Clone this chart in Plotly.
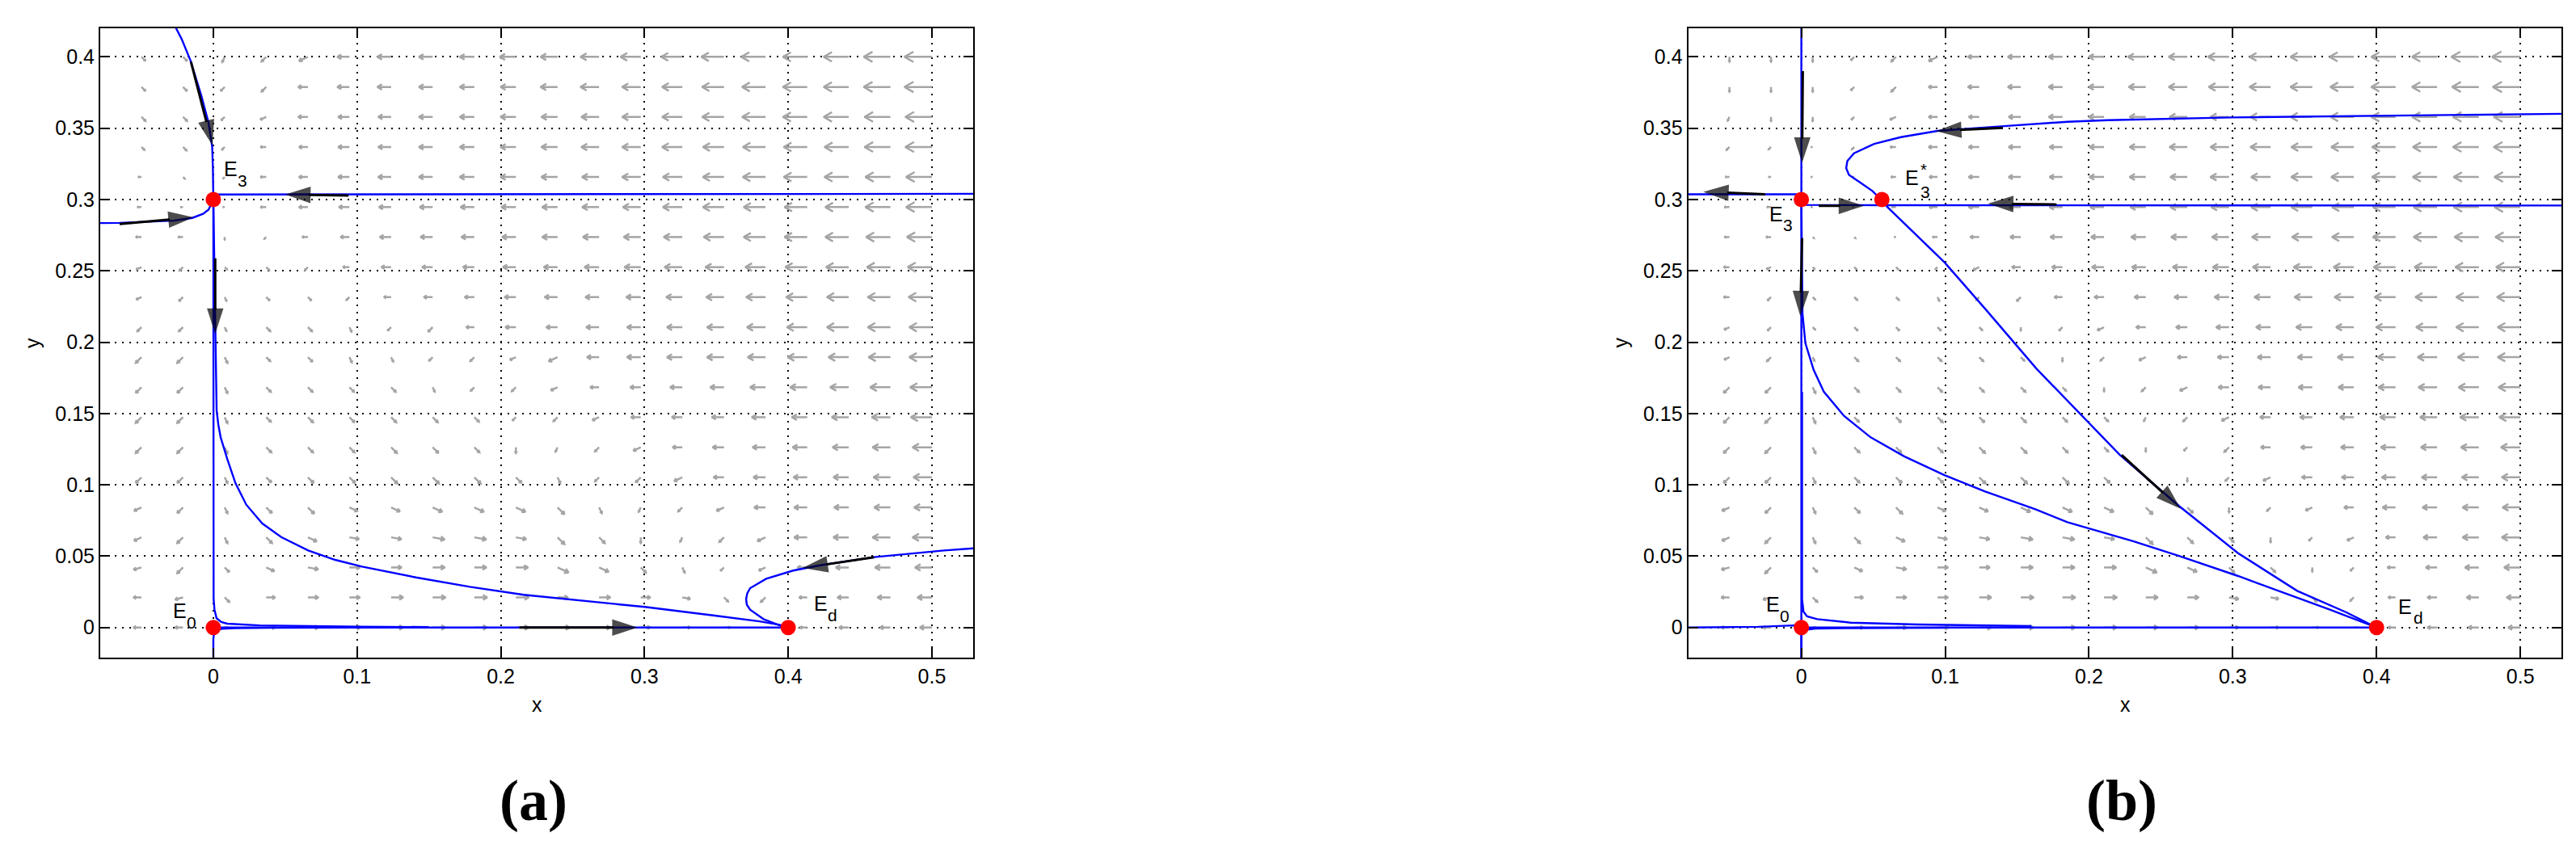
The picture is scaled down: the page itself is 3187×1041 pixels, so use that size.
import math
import plotly.graph_objects as go
import plotly.figure_factory as ff

# ---------------- axes ----------------
X_RANGE = [-0.0787, 0.5288]
Y_RANGE = [-0.0211, 0.4202]
X_TICKS = [0, 0.1, 0.2, 0.3, 0.4, 0.5]
X_TICKTEXT = ["0", "0.1", "0.2", "0.3", "0.4", "0.5"]
Y_TICKS = [0, 0.05, 0.1, 0.15, 0.2, 0.25, 0.3, 0.35, 0.4]
Y_TICKTEXT = ["0", "0.05", "0.1", "0.15", "0.2", "0.25", "0.3", "0.35", "0.4"]

# ---------------- direction field ----------------
field_x = [-0.05, -0.0211, 0.0079, 0.0368, 0.0658, 0.0947, 0.1237, 0.1526, 0.1816, 0.2105,
           0.2395, 0.2684, 0.2974, 0.3263, 0.3553, 0.3842, 0.4132, 0.4421, 0.4711, 0.5]
field_y = [0.4, 0.3789, 0.3579, 0.3368, 0.3158, 0.2947, 0.2737, 0.2526, 0.2316, 0.2105,
           0.1895, 0.1684, 0.1474, 0.1263, 0.1053, 0.0842, 0.0632, 0.0421, 0.0211, 0.0]
# direction codes -> angle in degrees
DIR_ANGLE = {'W': 180, 'v': 195, 'w': 205, 'Z': 225, 'z': 245, 'S': 270,
             's': 295, 'Q': 315, 'q': 335, 'e': 350, 'E': 0}
# arrow length read in screen pixels (base-36 digit) ; pixels per data unit
FIELD_PX_PER_UNIT = 1778.0

dirs_a = [
    "QQzZwWWWWWWWWWWWWWWW",
    "QQZZWWWWWWWWWWWWWWWW",
    "QQZwWWWWWWWWWWWWWWWW",
    "QQZWWWWWWWWWWWWWWWWW",
    "WQZWWWWWWWWWWWWWWWWW",
    "WWWWWWWWWWWWWWWWWWWW",
    "WWSZWWWWWWWWWWWWWWWW",
    "wZQQZWWWWWWWWWWWWWWW",
    "wZsQQZWWWWWWWWWWWWWW",
    "ZZsQQsZZWWWWWWWWWWWW",
    "ZZsQQssZZwwWWWWWWWWW",
    "ZZsQQQQsZZwWWWWWWWWW",
    "ZZsQQQQQQZZwWWWWWWWW",
    "ZZsQQQQQQSzZwWWWWWWW",
    "ZZsQQQQQQQsZZwWWWWWW",
    "wZsQQqqqqqQszZwWWWWW",
    "wZsQqeeeeeQQSzZwWWWW",
    "vZQqeEEEEEqqQsZwWWWW",
    "WvQEEEEEEEEEEeQZWWWW",
    "WWEEEEEEEEEEEEEEWWWW",
]
lens_a = [
    "7778cfhhiklnpqsuuvxy",
    "7778cfhhijlnnprtuvxy",
    "7768ceghijkmnprtuvwx",
    "5657beghijkmnpqstuwx",
    "4337beghijklnoqstuvw",
    "5327bdfghijlmoqrstvw",
    "76337befghjklnprstuv",
    "764558cdeghikmnprstu",
    "7756659bceghikmoqrst",
    "77577668adeghjlnprss",
    "aa87876678cfhjlmoprs",
    "aa888886679bdfhjlnpr",
    "aa8899998679cdfhjlnq",
    "aa8999aa9767acegikmo",
    "aa89aabbba879bdfhjln",
    "aa8abbcdddc867aegikm",
    "aa8accdffdca768bgjmo",
    "aa8bdddffffd9769cgjl",
    "aa8bddfgggdeca78aegi",
    "aa4bdefgggfeca849cdf",
]
dirs_b = [
    "SSSZZwWWWWWWWWWWWWWW",
    "SSSZZWWWWWWWWWWWWWWW",
    "zSSZwWWWWWWWWWWWWWWW",
    "ZZWZWWWWWWWWWWWWWWWW",
    "WWWWWWWWWWWWWWWWWWWW",
    "WWWWWWWWWWWWWWWWWWWW",
    "WWQQWWWWWWWWWWWWWWWW",
    "WwQQQZwWWWWWWWWWWWWW",
    "WZQQQsZZWWWWWWWWWWWW",
    "wZQQQQQSZwWWWWWWWWWW",
    "wZsQQQQQSZwWWWWWWWWW",
    "ZZsQQQQQQSZwWWWWWWWW",
    "ZZsQQQQQQQzZwWWWWWWW",
    "ZZsQQQQQQQSZZWWWWWWW",
    "ZZsQQQQQQQQSZwWWWWWW",
    "wZsQQqqqqqQQSZwWWWWW",
    "wZsQqeeeeeQQQSZwWWWW",
    "vZQqeEEEEEqqQQSZWWWW",
    "WvQEEEEEEEEEeeQZWWWW",
    "WWEEEEEEEEEEEEEEWWWW",
]
lens_b = [
    "66668ceghjmnqqruuvyz",
    "66668beghjlnpqrtuvxy",
    "55558bdfhjkmnprtuvwx",
    "54247bdfgikmnpqstuwx",
    "53226adfgiklnoqstuvw",
    "65225adeghjlmoqrstvw",
    "662226bdfgiklnprstuv",
    "7634448bdfhikmnprstu",
    "76455557acegikmoqrst",
    "7646665469cegikmoqss",
    "77577776569cegikmoqs",
    "aa888888657adfhjlnpr",
    "aa8899998757adfhjlnq",
    "aa8999aa97568cegikmo",
    "aa89aabbba656adfhjln",
    "aa8abbcdddca669cgikm",
    "aa8accdffdca8669chkn",
    "aa8bdddffffd9856aehk",
    "aa8bddfgggfeca769cfh",
    "aa4bdefgggfeca849cdf",
]

# ---------------- trajectories ----------------
traj_a = [
    ([-0.026, -0.0221, -0.0159, -0.0084, -0.0034, -0.0008, -0.0003, 0.0],
     [0.4202, 0.4126, 0.3975, 0.373, 0.3541, 0.3371, 0.322, 0.3]),
    ([0.0, 0.0004, 0.0008, 0.0013, 0.0018, 0.0023, 0.0035, 0.0051, 0.0097, 0.0154, 0.0229,
      0.0341, 0.0472, 0.066, 0.0848, 0.1035, 0.141, 0.1785, 0.216, 0.26, 0.3003, 0.35,
      0.38, 0.394, 0.4],
     [0.3, 0.27, 0.24, 0.209, 0.18, 0.152, 0.142, 0.1333, 0.1182, 0.1012, 0.0861,
      0.0729, 0.0634, 0.054, 0.0474, 0.0427, 0.0351, 0.0285, 0.0229, 0.0185, 0.0144, 0.0082,
      0.0043, 0.0019, 0.0]),
    ([0.0, 0.0, 0.0002, 0.0008, 0.00225, 0.0055, 0.0097, 0.0322, 0.06, 0.1, 0.15],
     [0.3, 0.05, 0.02, 0.0125, 0.0065, 0.0038, 0.0027, 0.0015, 0.001, 0.0006, 0.0003]),
    ([0.0, 0.0, 0.0005, 0.002, 0.006, 0.015, 0.04, 0.1],
     [-0.0211, -0.008, -0.004, -0.0018, -0.0009, -0.0005, -0.0002, -0.0001]),
    ([0.0, 0.4], [0.0, 0.0]),
    ([0.5288, 0.01, 0.003, 0.0005, 0.0], [0.304, 0.3037, 0.3035, 0.302, 0.3]),
    ([-0.0787, -0.0652, -0.0277, -0.0146, -0.0071, -0.0034, -0.0015, 0.0],
     [0.2835, 0.2836, 0.2852, 0.2871, 0.29, 0.2928, 0.2966, 0.3]),
    ([0.5288, 0.5084, 0.4597, 0.4222, 0.4034, 0.3847, 0.3735, 0.3715, 0.3707, 0.3712,
      0.3735, 0.3828, 0.394, 0.4],
     [0.0555, 0.054, 0.0493, 0.0436, 0.0399, 0.0342, 0.0276, 0.024, 0.02, 0.016,
      0.0125, 0.0059, 0.0015, 0.0]),
]
traj_b = [
    ([0.0, 0.0], [0.4202, -0.0211]),
    ([-0.0787, -0.01, 0.0, 0.0], [0.3037, 0.3037, 0.3037, 0.3]),
    ([0.0, 0.002, 0.056, 0.2, 0.5288], [0.3, 0.2962, 0.296, 0.2959, 0.2958]),
    ([0.5285, 0.4133, 0.2991, 0.2131, 0.185, 0.139, 0.0948, 0.0692, 0.0506, 0.0366,
      0.032, 0.0312, 0.0331, 0.0412, 0.0494, 0.0559],
     [0.3601, 0.3588, 0.3575, 0.3556, 0.3545, 0.3513, 0.3481, 0.3437, 0.339, 0.3324,
      0.327, 0.322, 0.3173, 0.3117, 0.306, 0.2994]),
    ([0.0559, 0.0599, 0.0995, 0.1274, 0.1635, 0.185, 0.2215, 0.2626, 0.3037, 0.3448,
      0.379, 0.4],
     [0.2994, 0.2947, 0.256, 0.2239, 0.1814, 0.1588, 0.121, 0.0852, 0.0521, 0.0257,
      0.0106, 0.0]),
    ([0.0, 0.0003, 0.0008, 0.0028, 0.0086, 0.0156, 0.0296, 0.0482, 0.0715, 0.0995,
      0.1274, 0.1624, 0.185, 0.2307, 0.2626, 0.3037, 0.3676, 0.4],
     [0.3, 0.25, 0.22, 0.1993, 0.1805, 0.1653, 0.1484, 0.1333, 0.12, 0.1068,
      0.0955, 0.083, 0.0738, 0.0605, 0.0502, 0.0361, 0.0125, 0.0]),
    ([0.0005, 0.0005, 0.0015, 0.004, 0.011, 0.0343, 0.0808, 0.16],
     [0.165, 0.02, 0.011, 0.0078, 0.0059, 0.0034, 0.0021, 0.001]),
    ([-0.0787, -0.03, -0.005, 0.0], [0.0, 0.0005, 0.0015, 0.001]),
    ([0.0, 0.0, 0.001, 0.004, 0.01, 0.03, 0.1],
     [-0.0211, -0.006, -0.003, -0.0015, -0.0008, -0.0004, -0.0002]),
    ([0.0, 0.4], [0.0, 0.0]),
]

# black direction arrows: (tail_x, tail_y, head_x, head_y)
arrows_a = [
    (-0.0156, 0.3966, -0.0006, 0.338),
    (0.0013, 0.2588, 0.0013, 0.2059),
    (0.0941, 0.3028, 0.05, 0.3035),
    (-0.0652, 0.2828, -0.0137, 0.2875),
    (0.2129, 0.0, 0.2952, 0.0),
    (0.4597, 0.0493, 0.41, 0.0417),
]
arrows_b = [
    (0.001, 0.39, 0.0005, 0.3258),
    (-0.0251, 0.3037, -0.0682, 0.3054),
    (0.0121, 0.2956, 0.0436, 0.2956),
    (0.0005, 0.2729, -0.0007, 0.2182),
    (0.1402, 0.3503, 0.0937, 0.348),
    (0.1775, 0.2965, 0.1298, 0.2971),
    (0.2227, 0.121, 0.2638, 0.0832),
]

# equilibria
eq_a_x = [0.0, 0.0, 0.4]
eq_a_y = [0.0, 0.3, 0.0]
eq_b_x = [0.0, 0.0, 0.4, 0.056]
eq_b_y = [0.0, 0.3, 0.0, 0.3]
# labels: (main letter, x_left, y_center, subscript, sub_x_left, sub_y_center)
labels_a = [("E", -0.0287, 0.0120, "0", -0.0191, 0.0035),
            ("E", 0.0068, 0.3215, "3", 0.0163, 0.3133),
            ("E", 0.4173, 0.0168, "d", 0.4269, 0.0086)]
labels_b = [("E", -0.0251, 0.0160, "0", -0.0156, 0.0080),
            ("E", -0.0229, 0.2900, "3", -0.0133, 0.2821),
            ("E", 0.0715, 0.3150, "3", 0.0822, 0.3053),
            ("E", 0.4142, 0.0148, "d", 0.4249, 0.0069)]
star_b = ("*", 0.0822, 0.3212)

# ---------------- layout geometry (pixels of the 3187x1041 page) ----------------
W, H = 3187, 1041
PANEL_A_PX = (116.0, 1196.2)
PANEL_B_PX = (2080.6, 3161.4)
PANEL_Y_PX = (26.7, 806.0)

GRAY = "rgb(165,165,165)"
BLUE = "rgb(0,0,255)"
FONT = "Liberation Sans, Arial, Helvetica, sans-serif"

fig = go.Figure()


def add_field(dirs, lens, xa, ya):
    xs, ys, us, vs = [], [], [], []
    for r, yv in enumerate(field_y):
        for c, xv in enumerate(field_x):
            ang = math.radians(DIR_ANGLE[dirs[r][c]])
            L = int(lens[r][c], 36) / FIELD_PX_PER_UNIT
            xs.append(xv)
            ys.append(yv)
            us.append(L * math.cos(ang))
            vs.append(L * math.sin(ang))
    q = ff.create_quiver(xs, ys, us, vs, scale=1.0, arrow_scale=0.38, angle=math.pi / 6,
                         line=dict(color=GRAY, width=2.5), hoverinfo="skip")
    tr = q.data[0]
    tr.update(xaxis=xa, yaxis=ya, showlegend=False)
    fig.add_trace(tr)


add_field(dirs_a, lens_a, "x", "y")
add_field(dirs_b, lens_b, "x2", "y2")

for (tx, ty) in traj_a:
    fig.add_trace(go.Scatter(x=tx, y=ty, mode="lines", line=dict(color=BLUE, width=2.4),
                             xaxis="x", yaxis="y", hoverinfo="skip", showlegend=False))
for (tx, ty) in traj_b:
    fig.add_trace(go.Scatter(x=tx, y=ty, mode="lines", line=dict(color=BLUE, width=2.4),
                             xaxis="x2", yaxis="y2", hoverinfo="skip", showlegend=False))

# black direction arrows: shaft line + arrow marker oriented along the segment
for arrows, xa, ya in ((arrows_a, "x", "y"), (arrows_b, "x2", "y2")):
    for (tx, ty, hx, hy) in arrows:
        fig.add_trace(go.Scatter(
            x=[tx, hx], y=[ty, hy], mode="lines+markers",
            line=dict(color="black", width=3),
            marker=dict(symbol=["circle", "arrow"], size=[0, 33], color="black",
                        angleref="previous", line=dict(width=0)),
            xaxis=xa, yaxis=ya, hoverinfo="skip", showlegend=False))

fig.add_trace(go.Scatter(x=eq_a_x, y=eq_a_y, mode="markers",
                         marker=dict(color="red", size=19, line=dict(width=0)),
                         xaxis="x", yaxis="y", hoverinfo="skip", showlegend=False))
fig.add_trace(go.Scatter(x=eq_b_x, y=eq_b_y, mode="markers",
                         marker=dict(color="red", size=19, line=dict(width=0)),
                         xaxis="x2", yaxis="y2", hoverinfo="skip", showlegend=False))

annotations = []
for labels, xr, yr in ((labels_a, "x", "y"), (labels_b, "x2", "y2")):
    for (t, lx, ly, s, sx, sy) in labels:
        annotations.append(dict(x=lx, y=ly, xref=xr, yref=yr, text=t, showarrow=False,
                                xanchor="left", yanchor="middle", borderpad=0,
                                font=dict(family=FONT, size=25, color="black")))
        annotations.append(dict(x=sx, y=sy, xref=xr, yref=yr, text=s, showarrow=False,
                                xanchor="left", yanchor="middle", borderpad=0,
                                font=dict(family=FONT, size=21, color="black")))
annotations.append(dict(x=star_b[1], y=star_b[2], xref="x2", yref="y2", text=star_b[0],
                        showarrow=False, xanchor="left", yanchor="middle", borderpad=0,
                        font=dict(family=FONT, size=20, color="black")))

# axis titles and panel letters
for (x0, x1), letter in ((PANEL_A_PX, "(a)"), (PANEL_B_PX, "(b)")):
    cx = (x0 + x1) / 2 / W
    annotations.append(dict(x=cx, y=1 - 864 / H, xref="paper", yref="paper", text="x",
                            showarrow=False, xanchor="center", yanchor="middle",
                            font=dict(family=FONT, size=25, color="black")))
    annotations.append(dict(x=(x0 - 84) / W, y=1 - 416 / H, xref="paper", yref="paper", text="y",
                            showarrow=False, xanchor="center", yanchor="middle", textangle=-90,
                            font=dict(family=FONT, size=25, color="black")))
    annotations.append(dict(x=cx - 4 / W, y=1 - 983 / H, xref="paper", yref="paper",
                            text="<b>" + letter + "</b>", showarrow=False,
                            xanchor="center", yanchor="middle",
                            font=dict(family="Liberation Serif, Times New Roman, serif",
                                      size=72, color="black")))

ydom = [1 - PANEL_Y_PX[1] / H, 1 - PANEL_Y_PX[0] / H]
axis_common = dict(showline=True, linecolor="black", linewidth=2, mirror="ticks",
                   ticks="inside", ticklen=12, tickwidth=2, tickcolor="black",
                   showgrid=True, gridcolor="black", gridwidth=1.8, griddash="2px,7px",
                   zeroline=False, tickfont=dict(family=FONT, size=25, color="black"))

fig.update_layout(
    width=W, height=H, autosize=False,
    margin=dict(l=0, r=0, t=0, b=0),
    paper_bgcolor="white", plot_bgcolor="white", showlegend=False,
    xaxis=dict(domain=[PANEL_A_PX[0] / W, PANEL_A_PX[1] / W], range=X_RANGE, anchor="y",
               tickvals=X_TICKS, ticktext=X_TICKTEXT, **axis_common),
    yaxis=dict(domain=ydom, range=Y_RANGE, anchor="x",
               tickvals=Y_TICKS, ticktext=Y_TICKTEXT, **axis_common),
    xaxis2=dict(domain=[PANEL_B_PX[0] / W, PANEL_B_PX[1] / W], range=X_RANGE, anchor="y2",
                tickvals=X_TICKS, ticktext=X_TICKTEXT, **axis_common),
    yaxis2=dict(domain=ydom, range=Y_RANGE, anchor="x2",
                tickvals=Y_TICKS, ticktext=Y_TICKTEXT, **axis_common),
    annotations=annotations,
)

fig.write_html("out.html")
